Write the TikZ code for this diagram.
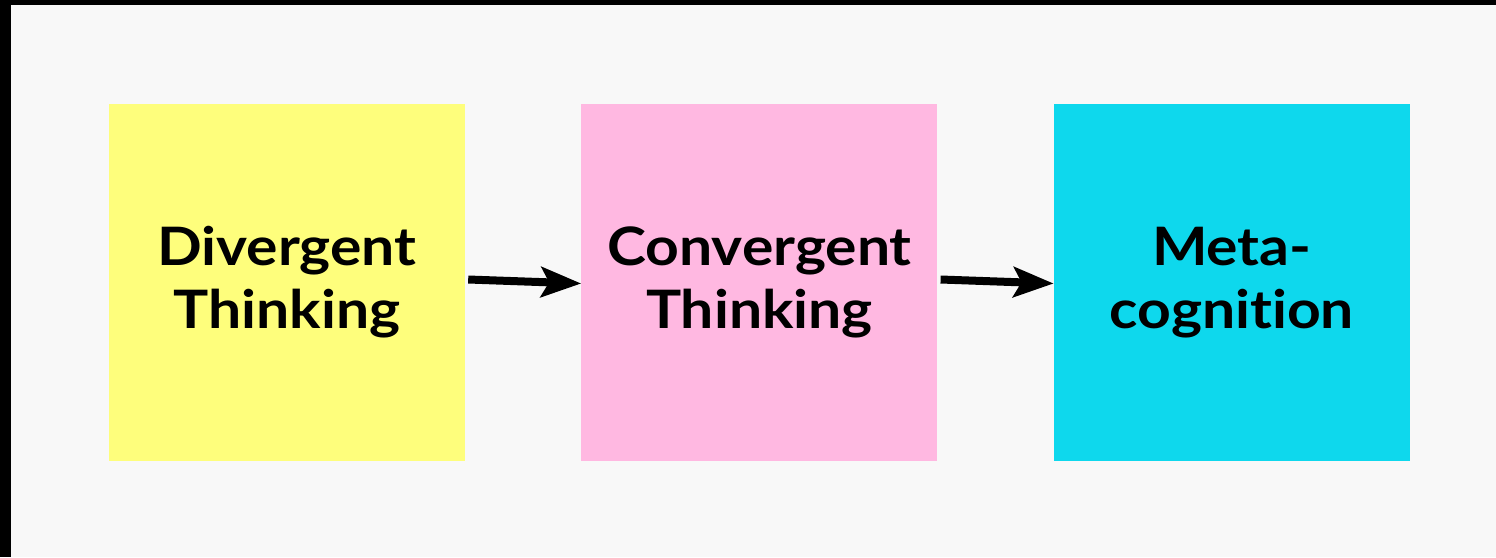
\documentclass[tikz,border=0pt]{standalone}
\usepackage{fontspec}
\setmainfont{Lato}[FakeStretch=1.11,Ligatures={NoCommon,NoContextual}]
\usetikzlibrary{positioning,arrows.meta}
\definecolor{bgpaper}{RGB}{248,248,248}
\definecolor{stickyyellow}{RGB}{254,254,124}
\definecolor{stickypink}{RGB}{255,184,225}
\definecolor{stickycyan}{RGB}{14,216,237}
\tikzset{
  sticky/.style={minimum width=356pt,minimum height=357pt,inner sep=0pt,
    align=center,font=\fontsize{53}{63}\selectfont\bfseries},
  flow/.style={line width=8pt,-{Stealth[length=40pt,width=30pt,inset=8pt]}}
}

\begin{document}
\begin{tikzpicture}[x=1pt,y=1pt]
  \useasboundingbox (0,0) rectangle (1496,-557);
  \fill[bgpaper] (0,0) rectangle (1496,-557);
  \fill[black] (0,0) rectangle (1496,-5);
  \fill[black] (0,0) rectangle (11,-557);
  \node[sticky,fill=stickyyellow] (div) at (287,-282.5) {Divergent\\Thinking};
  \node[sticky,fill=stickypink,right=116pt of div] (conv) {Convergent\\Thinking};
  \node[sticky,fill=stickycyan,right=116pt of conv] (meta) {Meta-\\cognition};
  \draw[flow] ([xshift=3pt,yshift=3pt]div.east) -- ([yshift=-1pt]conv.west);
  \draw[flow] ([xshift=3pt,yshift=3pt]conv.east) -- ([yshift=-1pt]meta.west);
\end{tikzpicture}
\end{document}
